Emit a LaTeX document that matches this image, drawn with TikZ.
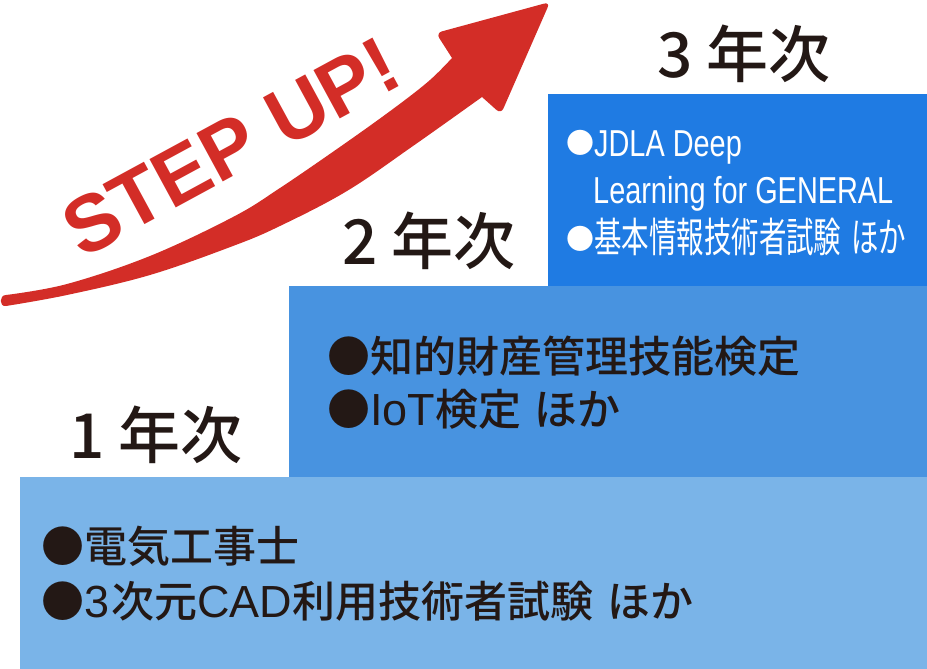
\documentclass[tikz,border=0pt]{standalone}
\usepackage{fontspec}
\newfontfamily\jp{Noto Sans CJK JP Medium}
\newfontfamily\jpc[FakeStretch=0.67]{Noto Sans CJK JP}
\newfontfamily\latc[FakeStretch=0.77]{Liberation Sans}
\newfontfamily\lat{Liberation Sans}
\newfontfamily\stepf{Liberation Sans}
\definecolor{boxA}{HTML}{7AB4E8}
\definecolor{boxB}{HTML}{4893E0}
\definecolor{boxC}{HTML}{1F7BE3}
\definecolor{arrowred}{HTML}{D32D27}
\definecolor{ink}{HTML}{231815}
\newcommand{\wlat}[1]{{\lat\fontsize{45}{45}\selectfont #1}}
\begin{document}
\begin{tikzpicture}[x=1pt,y=-1pt,
  yeartitle/.style={font=\jp\fontsize{62}{62}\selectfont, text=ink, inner sep=0pt, anchor=center},
  bodytext/.style={font=\jp\fontsize{43}{43}\selectfont, text=ink, inner sep=0pt, anchor=base west},
  whitetext/.style={text=white, inner sep=0pt, anchor=base west},
  steptext/.style={font=\stepf\bfseries\fontsize{80}{80}\selectfont, text=arrowred, inner sep=0pt, anchor=center, rotate=28.5}]
\useasboundingbox (0,0) rectangle (927,669);

% stair boxes
\fill[boxC] (548,94) rectangle (927,286);
\fill[boxB] (289,286) rectangle (927,477);
\fill[boxA] (20,477) rectangle (927,669);

% red curved arrow
\fill[arrowred] (6,306) .. controls (-1,307) and (-1,295) .. (6,295)
  -- plot[smooth, tension=0.6] coordinates {(6,295) (67,284) (150,256) (233,217) (280,188) (347,142) (397,106) (430,80) (452,58)}
  [rounded corners=6] -- (436,33) -- (550,2) -- (501,114) [sharp corners] -- (482,97)
  -- plot[smooth, tension=0.6] coordinates {(482,97) (413,146) (347,191) (280,226) (233,246) (150,275) (67,295) (6,306)} -- cycle;

\node[steptext] (step) at (231,147) {STEP UP!};

% year titles
\node[yeartitle] (y3) at (744,54) {3 年次};
\node[yeartitle] (y2) at (429,241) {2 年次};
\node[yeartitle] (y1) at (156,435) {1 年次};

% box 3 text
\node[whitetext] (c1) at (566,157) {{\jp\fontsize{28}{28}\selectfont\raisebox{3pt}{●}}{\latc\fontsize{37.5}{37.5}\selectfont JDLA Deep}};
\node[whitetext] (c2) at (593,203) {\latc\fontsize{37.5}{37.5}\selectfont Learning for GENERAL};
\node[whitetext] (c3) at (566,252) {{\jp\fontsize{28}{28}\selectfont\raisebox{3pt}{●}}{\jpc\fontsize{41}{41}\selectfont 基本情報技術者試験\hspace{10pt}ほか}};

% box 2 text
\node[bodytext] (b1) at (327,372) {●知的財産管理技能検定};
\node[bodytext] (b2) at (327,425) {●\wlat{IoT}検定\hspace{13pt}ほか};

% box 1 text
\node[bodytext] (a1) at (41,562) {●電気工事士};
\node[bodytext] (a2) at (41,617) {●\wlat{3}\hspace{2pt}次元\wlat{CAD}利用技術者試験\hspace{14pt}ほか};
\end{tikzpicture}
\end{document}
